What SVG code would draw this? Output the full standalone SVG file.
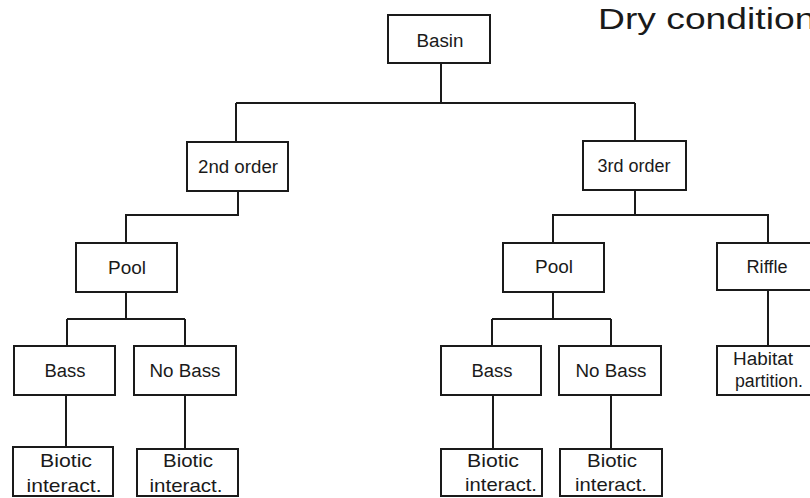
<svg xmlns="http://www.w3.org/2000/svg" width="810" height="498" viewBox="0 0 810 498">
<style>
.box{fill:#fff;stroke:#1a1a1a;stroke-width:2}
.ln{fill:none;stroke:#1a1a1a;stroke-width:2}
text{font-family:"Liberation Sans",Arial,sans-serif;fill:#1a1a1a;text-anchor:middle}
.l{font-size:18px}
.b{font-size:19px}
</style>
<rect width="810" height="498" fill="#fff"/>
<text x="598" y="29" style="font-size:30px;text-anchor:start" textLength="236" lengthAdjust="spacingAndGlyphs">Dry conditions</text>
<g id="connectors">
<path class="ln" d="M441 63V103M236 103H635M236 103V142M635 103V141"/>
<path class="ln" d="M238 191V215H126V243"/>
<path class="ln" d="M635 190V215H553V243M553 215H768V243"/>
<path class="ln" d="M126 292V319M67 319H185M67 319V346M185 319V346"/>
<path class="ln" d="M553 292V319M492 319H611M492 319V346M611 319V346"/>
<path class="ln" d="M768 290V346"/>
<path class="ln" d="M66 395V447M185 395V449M493 395V449M611 395V449"/>
</g>
<g id="basin"><rect class="box" x="388" y="15" width="102" height="48"/><text class="l" x="440" y="47" textLength="47" lengthAdjust="spacingAndGlyphs">Basin</text></g>
<g id="order2"><rect class="box" x="187" y="142" width="101" height="49"/><text class="l" x="238" y="173" textLength="80" lengthAdjust="spacingAndGlyphs">2nd order</text></g>
<g id="order3"><rect class="box" x="583" y="141" width="103" height="49"/><text class="l" x="634" y="172" textLength="73" lengthAdjust="spacingAndGlyphs">3rd order</text></g>
<g id="pool-left"><rect class="box" x="76" y="243" width="101" height="49"/><text class="l" x="127" y="274" textLength="38" lengthAdjust="spacingAndGlyphs">Pool</text></g>
<g id="pool-right"><rect class="box" x="503" y="243" width="101" height="49"/><text class="l" x="554" y="273" textLength="38" lengthAdjust="spacingAndGlyphs">Pool</text></g>
<g id="riffle"><rect class="box" x="717" y="243" width="100" height="47"/><text class="l" x="767" y="273" textLength="41" lengthAdjust="spacingAndGlyphs">Riffle</text></g>
<g id="bass-left"><rect class="box" x="14" y="346" width="101" height="49"/><text class="l" x="65" y="377" textLength="41" lengthAdjust="spacingAndGlyphs">Bass</text></g>
<g id="nobass-left"><rect class="box" x="134" y="346" width="102" height="49"/><text class="l" x="185" y="377" textLength="71" lengthAdjust="spacingAndGlyphs">No Bass</text></g>
<g id="bass-right"><rect class="box" x="441" y="346" width="100" height="49"/><text class="l" x="492" y="377" textLength="41" lengthAdjust="spacingAndGlyphs">Bass</text></g>
<g id="nobass-right"><rect class="box" x="559" y="346" width="102" height="49"/><text class="l" x="611" y="377" textLength="71" lengthAdjust="spacingAndGlyphs">No Bass</text></g>
<g id="habitat"><rect class="box" x="717" y="346" width="100" height="49"/><text class="l" x="763" y="365" textLength="60" lengthAdjust="spacingAndGlyphs">Habitat</text><text class="l" x="769" y="387" textLength="68" lengthAdjust="spacingAndGlyphs">partition.</text></g>
<g id="biotic1"><rect class="box" x="13" y="447" width="100" height="49"/><text class="b" x="66" y="467" textLength="52" lengthAdjust="spacingAndGlyphs">Biotic</text><text class="b" x="64" y="492" textLength="75" lengthAdjust="spacingAndGlyphs">interact.</text></g>
<g id="biotic2"><rect class="box" x="137" y="449" width="101" height="47"/><text class="b" x="188" y="467" textLength="50" lengthAdjust="spacingAndGlyphs">Biotic</text><text class="b" x="186" y="492" textLength="73" lengthAdjust="spacingAndGlyphs">interact.</text></g>
<g id="biotic3"><rect class="box" x="441" y="449" width="101" height="47"/><text class="b" x="493" y="467" textLength="52" lengthAdjust="spacingAndGlyphs">Biotic</text><text class="b" x="501" y="491" textLength="72" lengthAdjust="spacingAndGlyphs">interact.</text></g>
<g id="biotic4"><rect class="box" x="560" y="449" width="102" height="47"/><text class="b" x="612" y="467" textLength="50" lengthAdjust="spacingAndGlyphs">Biotic</text><text class="b" x="611" y="491" textLength="72" lengthAdjust="spacingAndGlyphs">interact.</text></g>
</svg>
